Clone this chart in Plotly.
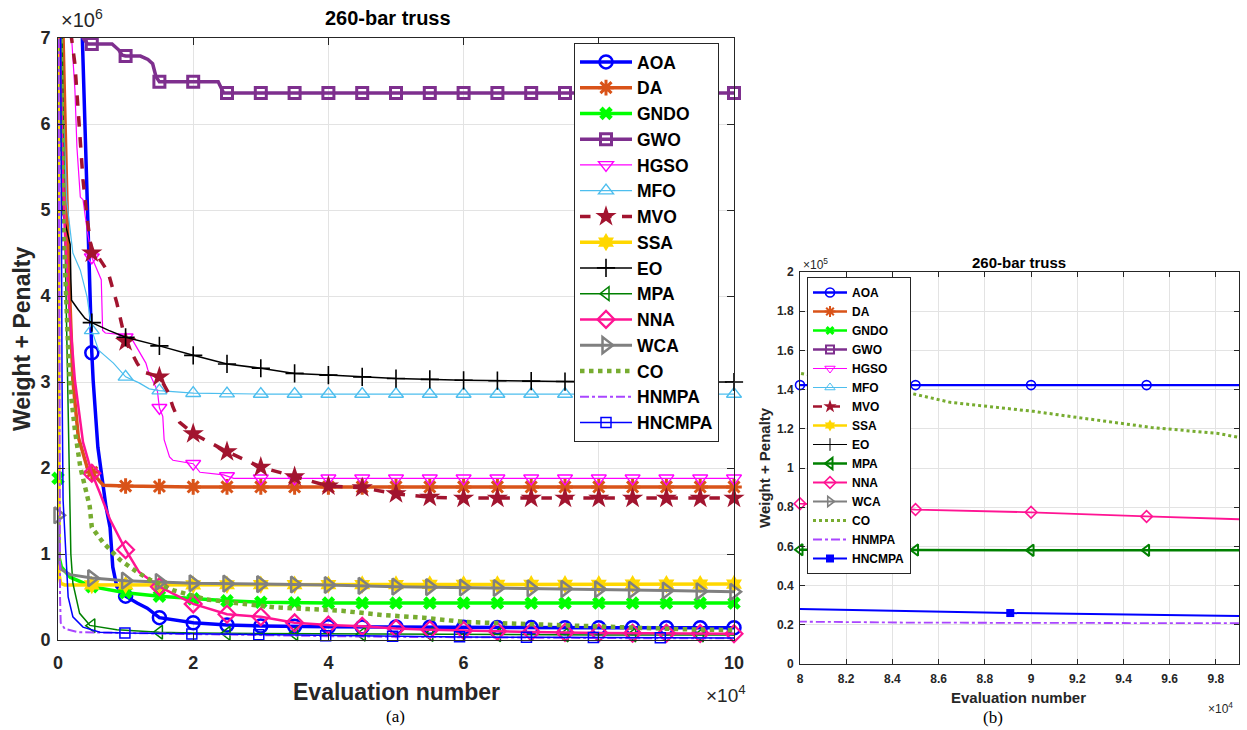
import numpy as np
import plotly.graph_objects as go

W, H = 1247, 730

# ---------------- data (x: evaluations / 1e4, y: weight + penalty / 1e6) ----------------
names = ["AOA", "DA", "GNDO", "GWO", "HGSO", "MFO", "MVO", "SSA", "EO",
         "MPA", "NNA", "WCA", "CO", "HNMPA", "HNCMPA"]

aoa_x = [0, 0.30, 0.36, 0.44, 0.50, 0.52, 0.59, 0.67, 0.71, 0.77, 0.81, 0.87, 0.95, 1.00,
         1.17, 1.32, 1.50, 2.0, 2.5, 3.0, 4.0, 5.0, 6.0, 7.0, 8.0, 9.0, 10.0]
aoa_y = [9.5, 7.6, 7.0, 4.77, 3.34, 3.02, 2.24, 1.78, 1.55, 1.31, 0.85, 0.62, 0.55, 0.51,
         0.43, 0.37, 0.26, 0.20, 0.175, 0.163, 0.155, 0.150, 0.147, 0.144, 0.1423, 0.1423, 0.1423]

da_x = [0, 0.10, 0.15, 0.22, 0.30, 0.43, 0.50, 0.58, 0.67, 1.0, 2.0, 10.0]
da_y = [9.5, 6.0, 4.5, 3.02, 2.36, 2.01, 1.95, 1.88, 1.80, 1.79, 1.78, 1.78]

gndo_x = [0, 0.02, 0.05, 0.18, 0.50, 1.0, 1.5, 2.0, 2.5, 3.0, 3.5, 4.0, 10.0]
gndo_y = [1.88, 0.95, 0.85, 0.73, 0.62, 0.55, 0.51, 0.478, 0.455, 0.44, 0.432, 0.43, 0.43]

gwo_x = [0, 0.30, 0.37, 0.44, 0.80, 0.90, 0.95, 1.0, 1.22, 1.33, 1.40, 1.45, 1.50,
         2.37, 2.45, 10.0]
gwo_y = [9.5, 7.6, 7.0, 6.93, 6.93, 6.86, 6.80, 6.79, 6.79, 6.75, 6.70, 6.55, 6.49,
         6.49, 6.36, 6.36]

hgso_x = [0, 0.20, 0.25, 0.28, 0.33, 0.37, 0.43, 0.50, 0.64, 0.66, 0.70, 0.95, 1.0, 1.10,
          1.30, 1.33, 1.47, 1.50, 1.55, 1.57, 1.65, 1.70, 2.0, 2.1, 2.45, 2.6, 10.0]
hgso_y = [9.5, 7.0, 6.4, 5.73, 5.15, 5.12, 4.77, 4.45, 4.19, 3.60, 3.57, 3.55, 3.52, 3.49,
          3.22, 3.14, 2.90, 2.70, 2.60, 2.33, 2.13, 2.09, 2.05, 1.95, 1.92, 1.88, 1.88]

mfo_x = [0, 0.05, 0.07, 0.13, 0.18, 0.22, 0.33, 0.43, 0.50, 0.60, 0.82, 1.0, 1.2, 1.35,
         1.5, 2.0, 3.0, 10.0]
mfo_y = [9.5, 7.0, 6.3, 5.1, 4.77, 4.5, 4.3, 3.99, 3.6, 3.37, 3.22, 3.06, 2.99, 2.92,
         2.90, 2.87, 2.86, 2.86]

mvo_x = [0, 0.15, 0.20, 0.25, 0.32, 0.37, 0.44, 0.50, 0.60, 0.74, 0.87, 1.0, 1.17, 1.25,
         1.5, 1.63, 1.70, 1.80, 2.0, 2.5, 3.0, 3.5, 4.0, 4.5, 5.0, 5.5, 6.0, 10.0]
mvo_y = [9.5, 7.6, 7.0, 6.7, 5.93, 5.35, 4.85, 4.5, 4.45, 4.28, 3.92, 3.47, 3.22, 3.12,
         3.06, 2.88, 2.71, 2.53, 2.40, 2.19, 2.01, 1.90, 1.79, 1.77, 1.70, 1.66, 1.65, 1.65]

ssa_x = [0, 0.005, 0.015, 0.04, 0.10, 5.0, 10.0]
ssa_y = [9.5, 4.0, 0.76, 0.66, 0.64, 0.645, 0.65]

eo_x = [0, 0.04, 0.06, 0.12, 0.18, 0.19, 0.20, 0.30, 0.40, 0.50, 0.75, 1.0, 1.5, 2.0,
        2.5, 3.0, 3.5, 4.0, 5.0, 6.0, 7.0, 8.0, 10.0]
eo_y = [9.5, 7.0, 5.0, 4.8, 4.6, 4.2, 3.95, 3.84, 3.74, 3.69, 3.60, 3.52, 3.42, 3.31,
        3.21, 3.16, 3.10, 3.08, 3.04, 3.02, 3.01, 3.0, 3.0]

mpa_x = [0, 0.06, 0.10, 0.15, 0.17, 0.19, 0.22, 0.32, 0.44, 0.47, 0.87, 1.5, 2.0, 3.0,
         4.0, 5.0, 6.0, 7.0, 8.0, 9.0, 10.0]
mpa_y = [9.5, 7.0, 4.8, 2.5, 1.5, 1.0, 0.66, 0.31, 0.20, 0.17, 0.12, 0.09, 0.08, 0.075,
         0.07, 0.066, 0.062, 0.060, 0.0583, 0.058, 0.058]

nna_x = [0, 0.03, 0.07, 0.10, 0.17, 0.25, 0.37, 0.50, 0.62, 0.72, 0.77, 1.0, 1.2, 1.5,
         2.0, 2.5, 3.0, 3.5, 4.0, 4.5, 5.0, 5.5, 6.0, 7.0, 8.0, 8.5, 9.0, 9.5, 9.9, 10.0]
nna_y = [9.5, 7.0, 5.5, 4.77, 3.8, 3.02, 2.3, 1.94, 1.71, 1.5, 1.4, 1.05, 0.79, 0.62,
         0.42, 0.30, 0.27, 0.20, 0.175, 0.16, 0.135, 0.12, 0.11, 0.093, 0.0818, 0.0788,
         0.0774, 0.0753, 0.0737, 0.0735]

wca_x = [0, 0.02, 0.05, 0.18, 0.5, 1.0, 1.5, 2.0, 3.0, 4.0, 5.0, 6.0, 7.0, 8.0, 9.0, 10.0]
wca_y = [1.45, 0.9, 0.82, 0.76, 0.72, 0.69, 0.675, 0.66, 0.65, 0.64, 0.62, 0.61, 0.60,
         0.59, 0.575, 0.56]

co_x = [0, 0.04, 0.08, 0.15, 0.18, 0.25, 0.33, 0.40, 0.47, 0.50, 0.67, 0.92, 1.17, 1.36,
        1.7, 2.2, 2.7, 3.2, 3.7, 4.2, 4.8, 5.4, 6.0, 7.2, 8.0, 8.48, 8.65, 9.01, 9.2,
        9.52, 9.81, 9.9, 10.0]
co_y = [9.5, 7.0, 4.8, 3.4, 2.94, 2.44, 2.01, 1.78, 1.55, 1.31, 1.13, 0.93, 0.79, 0.70,
        0.58, 0.47, 0.43, 0.38, 0.36, 0.34, 0.29, 0.26, 0.21, 0.175, 0.1483, 0.1381,
        0.1335, 0.1289, 0.1258, 0.1207, 0.1176, 0.1156, 0.1156]

hnmpa_x = [0, 0.01, 0.02, 0.03, 0.04, 0.10, 0.30, 1.0, 2.0, 3.0, 4.0, 5.0, 6.0, 7.0,
           8.0, 8.5, 9.9, 10.0]
hnmpa_y = [9.5, 6.0, 2.0, 0.5, 0.2, 0.13, 0.09, 0.08, 0.07, 0.055, 0.045, 0.037, 0.030,
           0.025, 0.0216, 0.0211, 0.0208, 0.0208]

hncmpa_x = [0, 0.04, 0.06, 0.075, 0.15, 0.22, 0.37, 0.62, 0.99, 2.0, 3.0, 4.0, 5.0, 6.0,
            7.0, 8.0, 8.91, 9.9, 10.0]
hncmpa_y = [9.5, 7.0, 3.0, 1.63, 0.5, 0.27, 0.15, 0.09, 0.08, 0.07, 0.06, 0.05, 0.042,
            0.036, 0.031, 0.0281, 0.026, 0.0245, 0.0245]

data = {
    "AOA": (aoa_x, aoa_y), "DA": (da_x, da_y), "GNDO": (gndo_x, gndo_y),
    "GWO": (gwo_x, gwo_y), "HGSO": (hgso_x, hgso_y), "MFO": (mfo_x, mfo_y),
    "MVO": (mvo_x, mvo_y), "SSA": (ssa_x, ssa_y), "EO": (eo_x, eo_y),
    "MPA": (mpa_x, mpa_y), "NNA": (nna_x, nna_y), "WCA": (wca_x, wca_y),
    "CO": (co_x, co_y), "HNMPA": (hnmpa_x, hnmpa_y), "HNCMPA": (hncmpa_x, hncmpa_y),
}

# ---------------- styles ----------------
S = {
    "AOA":    dict(c="#0000FF", w=3.5, wr=2.4, dash="solid", sym="circle-open", ms=13, msr=9, mlw=2.5, mlwr=1.6),
    "DA":     dict(c="#D95319", w=3.5, wr=2.4, dash="solid", sym="asterisk-open", ms=13, msr=9, mlw=3.0, mlwr=2.0),
    "GNDO":   dict(c="#00FF00", w=3.5, wr=2.4, dash="solid", sym="x", ms=12, msr=8, mlw=0, mlwr=0),
    "GWO":    dict(c="#7E2F8E", w=3.5, wr=2.4, dash="solid", sym="square-open", ms=11, msr=8, mlw=3.0, mlwr=2.0),
    "HGSO":   dict(c="#FF00FF", w=1.2, wr=1.0, dash="solid", sym="triangle-down-open", ms=13, msr=9, mlw=1.4, mlwr=1.0),
    "MFO":    dict(c="#4DBEEE", w=1.2, wr=1.0, dash="solid", sym="triangle-up-open", ms=13, msr=9, mlw=1.4, mlwr=1.0),
    "MVO":    dict(c="#A2142F", w=3.5, wr=2.4, dash="dash", sym="star", ms=16, msr=10, mlw=0, mlwr=0),
    "SSA":    dict(c="#FFD700", w=3.5, wr=2.4, dash="solid", sym="hexagram", ms=14, msr=9, mlw=0, mlwr=0),
    "EO":     dict(c="#000000", w=1.5, wr=1.0, dash="solid", sym="cross-thin-open", ms=13, msr=9, mlw=1.6, mlwr=1.0),
    "MPA":    dict(c="#008000", w=1.5, wr=2.4, dash="solid", sym="triangle-left-open", ms=12, msr=10, mlw=1.5, mlwr=2.0),
    "NNA":    dict(c="#FF1493", w=2.5, wr=1.8, dash="solid", sym="diamond-open", ms=13, msr=9, mlw=2.2, mlwr=1.6),
    "WCA":    dict(c="#808080", w=3.0, wr=2.0, dash="solid", sym="triangle-right-open", ms=14, msr=9, mlw=2.5, mlwr=1.6),
    "CO":     dict(c="#77AC30", w=4.5, wr=3.0, dash="dot", sym=None, ms=0, msr=0, mlw=0, mlwr=0),
    "HNMPA":  dict(c="#A945FF", w=2.0, wr=1.8, dash="dashdot", sym=None, ms=0, msr=0, mlw=0, mlwr=0),
    "HNCMPA": dict(c="#0000FF", w=1.5, wr=2.0, dash="solid", sym="square-open", ms=10, msr=8, mlw=1.5, mlwr=0),
}
S["HNCMPA"]["symr"] = "square"

# marker schedules (x positions, units of 1e4)
mk_left = {n: np.arange(0, 10.001, 0.5) for n in names}
mk_left["MPA"] = np.arange(0.5, 10.0, 1.0)
mk_left["HNCMPA"] = 0.99 * np.arange(0, 10)
mk_right = {n: np.arange(8.0, 9.6, 0.5) for n in names}
mk_right["HNCMPA"] = 0.99 * np.arange(0, 10)

panels = [
    dict(xa="x", ya="y", yscale=1.0, xr=[0, 10], yr=[0, 7], mk=mk_left, right=False, legend="legend"),
    dict(xa="x2", ya="y2", yscale=10.0, xr=[8, 9.9], yr=[0, 2], mk=mk_right, right=True, legend="legend2"),
]

fig = go.Figure()
for P in panels:
    r = P["right"]
    for n in names:
        st = S[n]
        x = np.array(data[n][0], dtype=float)
        y = np.array(data[n][1], dtype=float) * P["yscale"]
        lw = st["wr"] if r else st["w"]
        fig.add_trace(go.Scatter(
            x=x, y=y, mode="lines", xaxis=P["xa"], yaxis=P["ya"], showlegend=False,
            line=dict(color=st["c"], width=lw, dash=st["dash"]), hoverinfo="skip"))
        if st["sym"] is not None:
            xm = np.asarray(P["mk"][n], dtype=float)
            xm = xm[(xm >= P["xr"][0] - 1e-9) & (xm <= P["xr"][1] + 1e-9)]
            ym = np.interp(xm, x, y)
            keep = ym <= P["yr"][1]
            xm, ym = xm[keep], ym[keep]
            sym = st.get("symr", st["sym"]) if r else st["sym"]
            fig.add_trace(go.Scatter(
                x=xm, y=ym, mode="markers", xaxis=P["xa"], yaxis=P["ya"], showlegend=False,
                cliponaxis=False, hoverinfo="skip",
                marker=dict(symbol=sym, size=st["msr"] if r else st["ms"], color=st["c"],
                            line=dict(color=st["c"], width=st["mlwr"] if r else st["mlw"]))))
    # legend entries
    for n in names:
        st = S[n]
        lw = st["wr"] if r else st["w"]
        mode = "lines" if st["sym"] is None else "lines+markers"
        sym = (st.get("symr", st["sym"]) if r else st["sym"]) or "circle"
        fig.add_trace(go.Scatter(
            x=[None], y=[None], mode=mode, name=n, legend=P["legend"],
            xaxis=P["xa"], yaxis=P["ya"],
            line=dict(color=st["c"], width=lw, dash=st["dash"]),
            marker=dict(symbol=sym, size=(st["msr"] if r else st["ms"]) or 6, color=st["c"],
                        line=dict(color=st["c"], width=st["mlwr"] if r else st["mlw"]))))


def px(xp):
    return xp / W


def py(yp):
    return 1 - yp / H


FONT = "Liberation Sans, Arial, Helvetica, sans-serif"
AX = "#262626"
GRID = "#E3E3E3"

common = dict(showgrid=True, gridcolor=GRID, gridwidth=1, showline=True, linecolor=AX,
              linewidth=1, mirror="ticks", ticks="inside", tickcolor=AX, zeroline=False,
              automargin=False)

fig.update_layout(
    width=W, height=H, margin=dict(l=0, r=0, t=0, b=0, pad=0, autoexpand=False),
    paper_bgcolor="white", plot_bgcolor="white",
    font=dict(family=FONT, color=AX),
    xaxis=dict(domain=[px(58), px(734)], range=[0, 10], tickvals=[0, 2, 4, 6, 8, 10],
               ticklen=7, tickfont=dict(size=18, weight="bold", color=AX),
               ticklabelstandoff=6, anchor="y", **common),
    yaxis=dict(domain=[py(640), py(38)], range=[0, 7], dtick=1, ticklen=7,
               tickfont=dict(size=18, weight="bold", color=AX), ticklabelstandoff=3,
               anchor="x", **common),
    xaxis2=dict(domain=[px(800), px(1239)], range=[8, 9.9], tick0=8, dtick=0.2, ticklen=5,
                tickfont=dict(size=12, weight="bold", color=AX), ticklabelstandoff=4,
                anchor="y2", **common),
    yaxis2=dict(domain=[py(664), py(272)], range=[0, 2], tick0=0, dtick=0.2, ticklen=5,
                tickfont=dict(size=12, weight="bold", color=AX), ticklabelstandoff=3,
                anchor="x2", **common),
    legend=dict(x=px(574), y=py(43), xanchor="left", yanchor="top", bgcolor="white",
                bordercolor=AX, borderwidth=1, font=dict(size=17.5, weight="bold", color="#000"),
                itemwidth=52, tracegroupgap=0, traceorder="normal"),
    legend2=dict(x=px(807), y=py(277), xanchor="left", yanchor="top", bgcolor="white",
                 bordercolor=AX, borderwidth=1, font=dict(size=12, weight="bold", color="#000"),
                 itemwidth=34, tracegroupgap=0, traceorder="normal"),
)


def ann(text, x, y, size, bold=False, xanchor="center", yanchor="middle", angle=0,
        family=FONT, color="#000"):
    fig.add_annotation(text=text, x=px(x), y=py(y), xref="paper", yref="paper",
                       showarrow=False, xanchor=xanchor, yanchor=yanchor, textangle=angle,
                       font=dict(size=size, family=family, color=color,
                                 weight="bold" if bold else "normal"))


# left panel texts
ann("260-bar truss", 388, 18, 20, bold=True)
ann("×10<sup>6</sup>", 59, 19, 20, xanchor="left", color=AX)
ann("Evaluation number", 396, 692, 23, bold=True, color=AX)
ann("×10<sup>4</sup>", 704, 694, 19, xanchor="left", color=AX)
ann("Weight + Penalty", 22, 339, 23, bold=True, angle=-90, color=AX)
ann("(a)", 395, 716, 17, family="Liberation Serif, Times New Roman, serif")

# right panel texts
ann("260-bar truss", 1019, 262, 15, bold=True)
ann("×10<sup>5</sup>", 801, 264, 12, xanchor="left", color=AX)
ann("Evaluation number", 1019, 697, 15, bold=True, color=AX)
ann("×10<sup>4</sup>", 1206, 708, 12, xanchor="left", color=AX)
ann("Weight + Penalty", 764, 468, 15, bold=True, angle=-90, color=AX)
ann("(b)", 993, 717, 17, family="Liberation Serif, Times New Roman, serif")

fig.write_html("out.html")
